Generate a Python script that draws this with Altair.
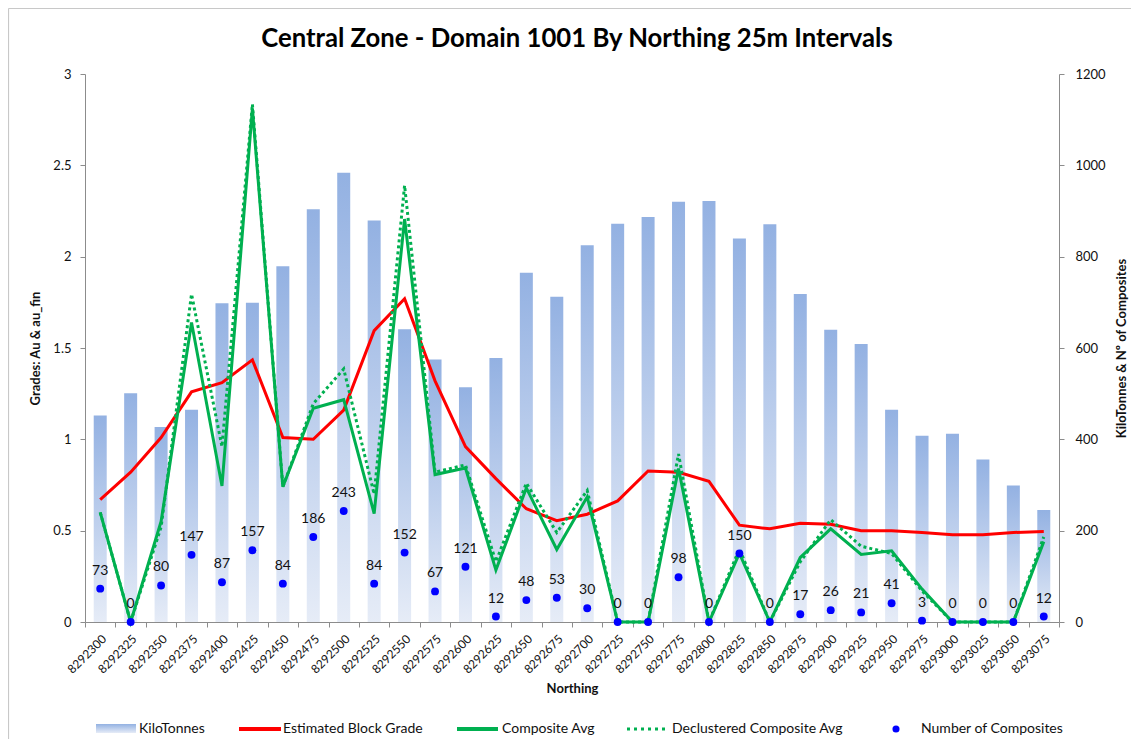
import altair as alt
import pandas as pd

northing = ["8292300", "8292325", "8292350", "8292375", "8292400", "8292425", "8292450", "8292475",
            "8292500", "8292525", "8292550", "8292575", "8292600", "8292625", "8292650", "8292675",
            "8292700", "8292725", "8292750", "8292775", "8292800", "8292825", "8292850", "8292875",
            "8292900", "8292925", "8292950", "8292975", "8293000", "8293025", "8293050", "8293075"]
kilotonnes = [452, 501, 427, 465, 698, 699, 779, 904, 984, 879, 641, 575, 514, 578, 765, 712,
              825, 872, 887, 920, 922, 840, 871, 718, 640, 609, 465, 408, 412, 356, 299, 245]
block_grade = [0.67, 0.82, 1.01, 1.26, 1.31, 1.435, 1.01, 1.0, 1.16, 1.595, 1.77, 1.32, 0.96, 0.785, 0.62, 0.555,
               0.59, 0.663, 0.827, 0.82, 0.77, 0.53, 0.51, 0.54, 0.535, 0.50, 0.50, 0.49, 0.477, 0.477, 0.49, 0.495]
composite = [0.60, 0.0, 0.55, 1.64, 0.745, 2.81, 0.74, 1.17, 1.217, 0.594, 2.206, 0.807, 0.843, 0.284, 0.734, 0.397,
             0.685, 0.0, 0.0, 0.84, 0.0, 0.375, 0.0, 0.353, 0.51, 0.37, 0.39, 0.18, 0.0, 0.0, 0.0, 0.44]
declustered = [0.60, 0.0, 0.52, 1.795, 0.96, 2.835, 0.74, 1.195, 1.385, 0.70, 2.39, 0.82, 0.86, 0.33, 0.76, 0.49,
               0.72, 0.0, 0.0, 0.92, 0.0, 0.40, 0.0, 0.33, 0.56, 0.415, 0.375, 0.17, 0.0, 0.0, 0.0, 0.466]
n_composites = [73, 0, 80, 147, 87, 157, 84, 186, 243, 84, 152, 67, 121, 12, 48, 53,
                30, 0, 0, 98, 0, 150, 0, 17, 26, 21, 41, 3, 0, 0, 0, 12]

title_text = "Central Zone - Domain 1001 By Northing 25m Intervals"
legend_labels = ["KiloTonnes", "Estimated Block Grade", "Composite Avg",
                 "Declustered Composite Avg", "Number of Composites"]

df = pd.DataFrame({
    "Northing": northing,
    "KiloTonnes": kilotonnes,
    "BlockGrade": block_grade,
    "Composite": composite,
    "Declustered": declustered,
    "NComp": n_composites,
})
one = pd.DataFrame({"k": [0]})

FONT = "Lato"
W, H = 974, 548
AXIS_GRAY = "#8c8c8c"
TXT = "#111111"

bar_grad = alt.LinearGradient(
    gradient="linear",
    stops=[alt.GradientStop(color="#93b1e2", offset=0),
           alt.GradientStop(color="#e6ecf7", offset=1)],
    x1=0, x2=0, y1=0, y2=1,
)

x_axis = alt.Axis(
    title="Northing", labelAngle=-45, labelFontSize=12, labelFont=FONT, labelColor=TXT,
    tickBand="extent", tickSize=5, tickColor=AXIS_GRAY, domainColor=AXIS_GRAY,
    labelPadding=6, titleFont=FONT, titleFontSize=13, titleFontWeight="bold", titleColor=TXT,
    titleX=W / 2, titleY=66, titleBaseline="middle", titleAlign="center",
)
x_enc = alt.X("Northing:N", sort=northing, scale=alt.Scale(paddingInner=0, paddingOuter=0), axis=x_axis)
x_plain = alt.X("Northing:N", sort=northing, scale=alt.Scale(paddingInner=0, paddingOuter=0))

right_scale = alt.Scale(domain=[0, 1200], nice=False)
left_scale = alt.Scale(domain=[0, 3], nice=False)

bars = alt.Chart(df).mark_bar(size=13, color=bar_grad).encode(
    x=x_enc,
    y=alt.Y("KiloTonnes:Q", scale=right_scale, axis=alt.Axis(
        orient="right", values=[0, 200, 400, 600, 800, 1000, 1200], format="d",
        title="KiloTonnes & Nº of Composites", labelFont=FONT, labelFontSize=13, labelColor=TXT,
        tickSize=5, tickColor=AXIS_GRAY, domainColor=AXIS_GRAY, labelPadding=11,
        titleFont=FONT, titleFontSize=13, titleFontWeight="bold", titleColor=TXT,
        titleAngle=-90, titleX=62, titleY=H / 2, titleBaseline="middle", titleAlign="center",
    )),
)

red = alt.Chart(df).mark_line(color="#ff0000", strokeWidth=3).encode(
    x=x_plain,
    y=alt.Y("BlockGrade:Q", scale=left_scale, axis=alt.Axis(
        orient="left", values=[0, 0.5, 1, 1.5, 2, 2.5, 3], format="~g",
        title="Grades: Au & au_fin", labelFont=FONT, labelFontSize=13, labelColor=TXT,
        tickSize=5, tickColor=AXIS_GRAY, domainColor=AXIS_GRAY, labelPadding=9,
        titleFont=FONT, titleFontSize=13, titleFontWeight="bold", titleColor=TXT,
        titleAngle=-90, titleX=-50, titleY=H / 2, titleBaseline="middle", titleAlign="center",
    )),
)
green = alt.Chart(df).mark_line(color="#00b050", strokeWidth=3).encode(
    x=x_plain, y=alt.Y("Composite:Q", scale=left_scale),
)
dotted = alt.Chart(df).mark_line(color="#00b050", strokeWidth=3, strokeDash=[3, 3]).encode(
    x=x_plain, y=alt.Y("Declustered:Q", scale=left_scale),
)
lines = alt.layer(red, green, dotted)

dots = alt.Chart(df).mark_circle(color="#0000ff", opacity=1, size=62).encode(
    x=x_plain, y=alt.Y("NComp:Q", scale=right_scale, axis=None),
)
labels = alt.Chart(df).mark_text(font=FONT, fontSize=14, dy=-14, baseline="alphabetic", color=TXT).encode(
    x=x_plain, y=alt.Y("NComp:Q", scale=right_scale, axis=None), text="NComp:Q",
)
points = alt.layer(dots, labels)

# chart title as a text mark
title = alt.Chart(one).mark_text(font=FONT, fontSize=25.7, fontWeight="bold", color="#000000",
                                 align="center", baseline="alphabetic").encode(
    x=alt.value(W / 2 + 5), y=alt.value(-27), text=alt.value(title_text))

# legend (drawn manually)
LY = 655
leg = []
leg.append(alt.Chart(one).mark_rect(color=bar_grad).encode(
    x=alt.value(11), x2=alt.value(51), y=alt.value(LY - 5), y2=alt.value(LY + 4)))
leg.append(alt.Chart(one).mark_rule(color="#ff0000", strokeWidth=4).encode(
    x=alt.value(154), x2=alt.value(196), y=alt.value(LY)))
leg.append(alt.Chart(one).mark_rule(color="#00b050", strokeWidth=4).encode(
    x=alt.value(372), x2=alt.value(413), y=alt.value(LY)))
leg.append(alt.Chart(one).mark_rule(color="#00b050", strokeWidth=3, strokeDash=[3, 4]).encode(
    x=alt.value(542), x2=alt.value(580), y=alt.value(LY)))
leg.append(alt.Chart(one).mark_circle(color="#0000ff", opacity=1, size=50).encode(
    x=alt.value(811), y=alt.value(LY)))
for lx, lab in zip([54, 198, 417, 587, 836], legend_labels):
    leg.append(alt.Chart(one).mark_text(font=FONT, fontSize=14, align="left", baseline="middle", color=TXT).encode(
        x=alt.value(lx), y=alt.value(LY), text=alt.value(lab)))

# chart border (top and left edges visible)
border = [
    alt.Chart(one).mark_rule(color="#c8c8c8", strokeWidth=1.2).encode(
        x=alt.value(-76.5), x2=alt.value(W + 80), y=alt.value(-65.5)),
    alt.Chart(one).mark_rule(color="#c8c8c8", strokeWidth=1.2).encode(
        x=alt.value(-76.5), y=alt.value(-65.5), y2=alt.value(H + 130)),
]

chart = alt.layer(bars, lines, points, title, *leg, *border).resolve_scale(y="independent").properties(
    width=W, height=H,
    autosize=alt.AutoSizeParams(type="none"),
    padding={"left": 77, "top": 66, "right": 72, "bottom": 117},
).configure_view(stroke=None).configure_axis(grid=False)

chart.save("out.html", embed_options={"renderer": "svg", "actions": False})
